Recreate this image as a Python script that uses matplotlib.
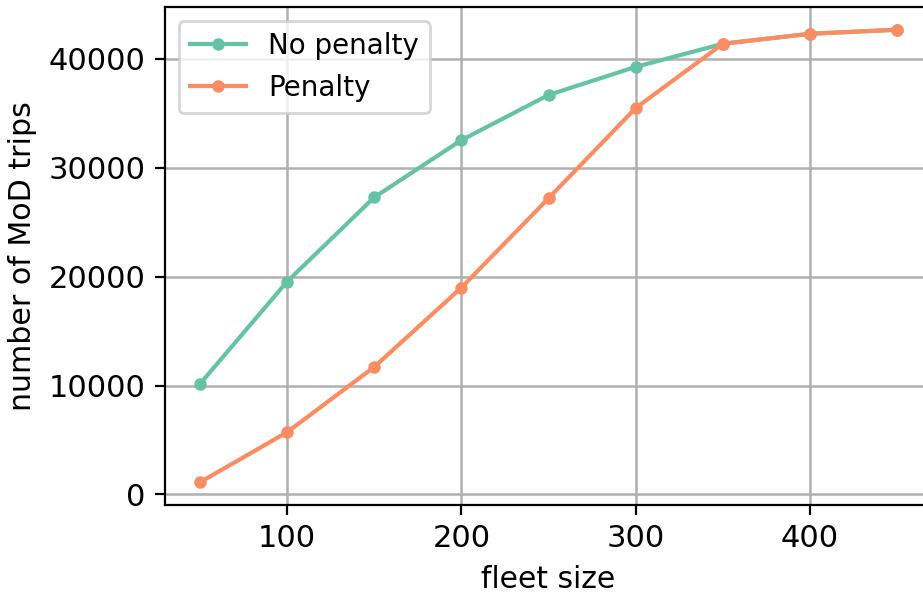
import matplotlib
matplotlib.use("Agg")
import matplotlib.pyplot as plt

# fleet size vs. served trips
fleet_size = [50, 100, 150, 200, 250, 300, 350, 400, 450]
no_penalty = [10140, 19540, 27280, 32530, 36680, 39260, 41380, 42300, 42670]
penalty = [1110, 5710, 11700, 18990, 27190, 35480, 41380, 42300, 42670]
x_ticks = [100, 200, 300, 400]

plt.rcParams['font.size'] = 11

fig = plt.figure(figsize=(923 / 200, 592 / 200), dpi=200)
ax = fig.add_axes([0.1788, 0.147, 0.831, 0.841])

ax.plot(fleet_size, no_penalty, marker='o', markersize=3.5, linewidth=1.5,
        color='#66c2a5', label='No penalty')
ax.plot(fleet_size, penalty, marker='o', markersize=3.5, linewidth=1.5,
        color='#fc8d62', label='Penalty')

ax.set_xticks(x_ticks)
ax.grid(True, color='#b0b0b0', linewidth=0.9)
ax.set_axisbelow(True)
ax.set_xlabel('fleet size', fontsize=10.7)
ax.set_ylabel('number of MoD trips', fontsize=10.8)
ax.legend(loc='upper left', fontsize=10)

fig.savefig('out.png', dpi=200)
